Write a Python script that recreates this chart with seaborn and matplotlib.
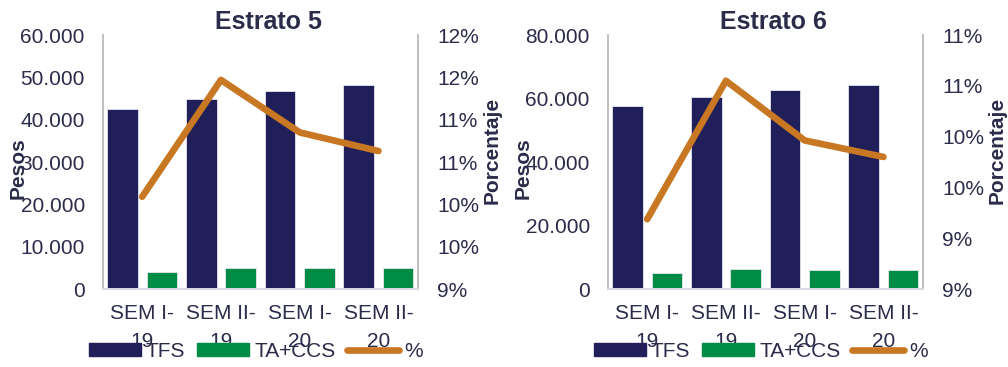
import matplotlib
matplotlib.use("Agg")
import matplotlib.pyplot as plt
import seaborn as sns
import pandas as pd
import numpy as np
from matplotlib.patches import Patch
from matplotlib.lines import Line2D
from matplotlib.ticker import FixedLocator, FuncFormatter

# datos
periodos = ["SEM I-\n19", "SEM II-\n19", "SEM I-\n20", "SEM II-\n20"]
series = ["TFS", "TA+CCS"]

tfs_e5 = [42600, 45000, 46700, 48100]
ta_e5 = [4100, 5050, 4900, 5000]
pct_e5 = [10.09, 11.47, 10.85, 10.63]

tfs_e6 = [57800, 60400, 62800, 64300]
ta_e6 = [5050, 6300, 6000, 6100]
pct_e6 = [9.55, 10.64, 10.17, 10.04]

ticks_izq_e5 = [0, 10000, 20000, 30000, 40000, 50000, 60000]
ticks_der_e5 = [9.0, 9.5, 10.0, 10.5, 11.0, 11.5, 12.0]
ticks_izq_e6 = [0, 20000, 40000, 60000, 80000]
ticks_der_e6 = [9.0, 9.4, 9.8, 10.2, 10.6, 11.0]

AZUL = "#201F5A"
VERDE = "#008C45"
NARANJA = "#C87722"
TEXTO = "#2B2B4A"
GRIS = "#BFBFBF"

sns.set_theme(style="white")
plt.rcParams["font.family"] = ["Liberation Sans", "DejaVu Sans"]
plt.rcParams["text.color"] = TEXTO
plt.rcParams["axes.labelcolor"] = TEXTO
plt.rcParams["xtick.color"] = TEXTO
plt.rcParams["ytick.color"] = TEXTO


def miles(v, pos):
    return f"{int(round(v)):,}".replace(",", ".")


def porcentaje(v, pos):
    return f"{int(np.floor(v + 0.5))}%"


def panel(ax, titulo, tfs, ta, pct, ticks_izq, ticks_der, pos_titulo):
    df = pd.DataFrame({
        "periodo": periodos * 2,
        "serie": [series[0]] * 4 + [series[1]] * 4,
        "valor": tfs + ta,
    })
    sns.barplot(data=df, x="periodo", y="valor", hue="serie",
                palette=[AZUL, VERDE], saturation=1, width=1.0, gap=0.22,
                edgecolor="#E6E6F0", linewidth=0.6, ax=ax, legend=False)
    ax.set_xlim(-0.5, 3.5)
    ax.set_ylim(ticks_izq[0], ticks_izq[-1])
    ax.yaxis.set_major_locator(FixedLocator(ticks_izq))
    ax.yaxis.set_major_formatter(FuncFormatter(miles))
    ax.tick_params(axis="y", length=0, pad=13, labelsize=15)
    ax.tick_params(axis="x", length=0, pad=11, labelsize=15)
    for t in ax.get_xticklabels():
        t.set_linespacing(1.55)
    ax.set_xlabel("")
    ax.set_ylabel("Pesos", fontsize=15, fontweight="bold")
    ax.yaxis.set_label_coords(-0.24, 0.476)
    ax.set_title(titulo, fontsize=18, fontweight="bold", color=TEXTO,
                 pad=4, x=pos_titulo)

    ax2 = ax.twinx()
    sns.lineplot(x=np.arange(len(periodos)), y=pct, color=NARANJA,
                 linewidth=4.8, solid_capstyle="round", ax=ax2)
    ax2.set_ylim(ticks_der[0], ticks_der[-1])
    ax2.yaxis.set_major_locator(FixedLocator(ticks_der))
    ax2.yaxis.set_major_formatter(FuncFormatter(porcentaje))
    ax2.tick_params(axis="y", length=0, pad=14, labelsize=15)
    ax2.set_ylabel("Porcentaje", fontsize=15, fontweight="bold")
    ax2.yaxis.set_label_coords(1.205, 0.547)

    for a in (ax, ax2):
        a.spines["top"].set_visible(False)
        a.spines["left"].set_color(GRIS)
        a.spines["right"].set_color(GRIS)
        a.spines["bottom"].set_color("#DADAE6")
        a.spines["left"].set_linewidth(1.2)
        a.spines["right"].set_linewidth(1.2)
        a.grid(False)

    handles = [
        Patch(facecolor=AZUL, edgecolor=AZUL),
        Patch(facecolor=VERDE, edgecolor=VERDE),
        Line2D([0], [0], color=NARANJA, linewidth=4.8, solid_capstyle="round"),
    ]
    ax2.legend(handles, ["TFS", "TA+CCS", "%"], loc="center",
               bbox_to_anchor=(0.485, -0.245), ncol=3, frameon=False,
               fontsize=15, handlelength=2.5, handleheight=0.55,
               handletextpad=0.25, columnspacing=0.55, borderpad=0)


fig = plt.figure(figsize=(10.08, 3.67), dpi=100)
ax_a = fig.add_axes([0.102, 0.2125, 0.3125, 0.692])
ax_b = fig.add_axes([0.603, 0.2125, 0.3125, 0.692])

panel(ax_a, "Estrato 5", tfs_e5, ta_e5, pct_e5, ticks_izq_e5, ticks_der_e5, 0.525)
panel(ax_b, "Estrato 6", tfs_e6, ta_e6, pct_e6, ticks_izq_e6, ticks_der_e6, 0.525)

fig.savefig("out.png", dpi=100)
